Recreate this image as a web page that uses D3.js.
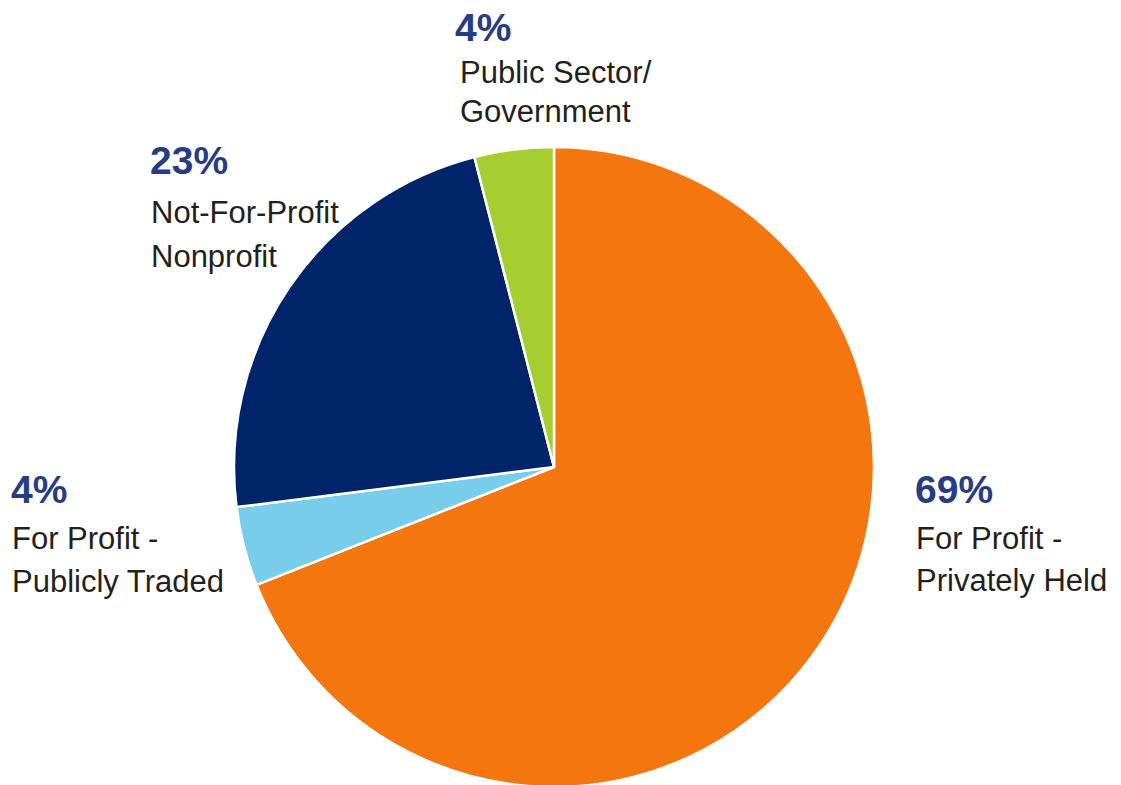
<!DOCTYPE html>
<html>
<head>
<meta charset="utf-8">
<script src="https://cdn.jsdelivr.net/npm/d3@7/dist/d3.min.js"></script>
<style>
  html, body { margin: 0; padding: 0; background: #ffffff; }
  svg { display: block; }
</style>
</head>
<body>
<svg id="chart" width="1121" height="785"></svg>
<script>
// Organization type shares (percent), clockwise from 12 o'clock
const categories = ["For Profit - Privately Held", "For Profit - Publicly Traded", "Not-For-Profit Nonprofit", "Public Sector/ Government"];
const values = [69, 4, 23, 4];
const colors = ["#F4760E", "#78CDEB", "#00246A", "#A6CE30"];
// Label text lines for each slice
const labelLines = [
  ["For Profit -", "Privately Held"],
  ["For Profit -", "Publicly Traded"],
  ["Not-For-Profit", "Nonprofit"],
  ["Public Sector/", "Government"]
];

const width = 1121, height = 785;
const cx = 554, cy = 467, radius = 320;

const svg = d3.select("#chart");
const g = svg.append("g").attr("transform", `translate(${cx},${cy})`);

const pie = d3.pie().sort(null).value(d => d.value);
const arc = d3.arc().innerRadius(0).outerRadius(radius);

const data = categories.map((c, i) => ({ name: c, value: values[i], color: colors[i], lines: labelLines[i] }));
const arcs = pie(data);

g.selectAll("path.slice")
  .data(arcs)
  .join("path")
  .attr("class", "slice")
  .attr("d", arc)
  .attr("fill", d => d.data.color)
  .attr("stroke", "#ffffff")
  .attr("stroke-width", 2.5)
  .attr("stroke-linejoin", "round");

// Label anchors (page coordinates of the percentage baseline and text block)
const labelPos = [
  { x: 915, y: 503, gap1: 46, gap2: 42 },
  { x: 11,  y: 503, gap1: 46, gap2: 43 },
  { x: 150, y: 174, gap1: 49, gap2: 44 },
  { x: 455, y: 41,  gap1: 42, gap2: 39 }
];

const labels = svg.selectAll("g.label")
  .data(arcs)
  .join("g")
  .attr("class", "label")
  .attr("transform", (d, i) => `translate(${labelPos[i].x},${labelPos[i].y})`);

labels.append("text")
  .attr("x", 0)
  .attr("y", 0)
  .attr("font-family", "'Liberation Sans', Arial, sans-serif")
  .attr("font-weight", "bold")
  .attr("font-size", 39)
  .attr("fill", "#283C86")
  .text(d => d3.format(".0f")(d.data.value) + "%");

labels.each(function(d, i) {
  const p = labelPos[i];
  const sel = d3.select(this);
  d.data.lines.forEach((line, j) => {
    sel.append("text")
      .attr("x", 1 + (i === 3 ? 4 : 0))
      .attr("y", p.gap1 + j * p.gap2)
      .attr("font-family", "'Liberation Sans', Arial, sans-serif")
      .attr("font-size", 31)
      .attr("fill", "#231F20")
      .text(line);
  });
});
</script>
</body>
</html>
